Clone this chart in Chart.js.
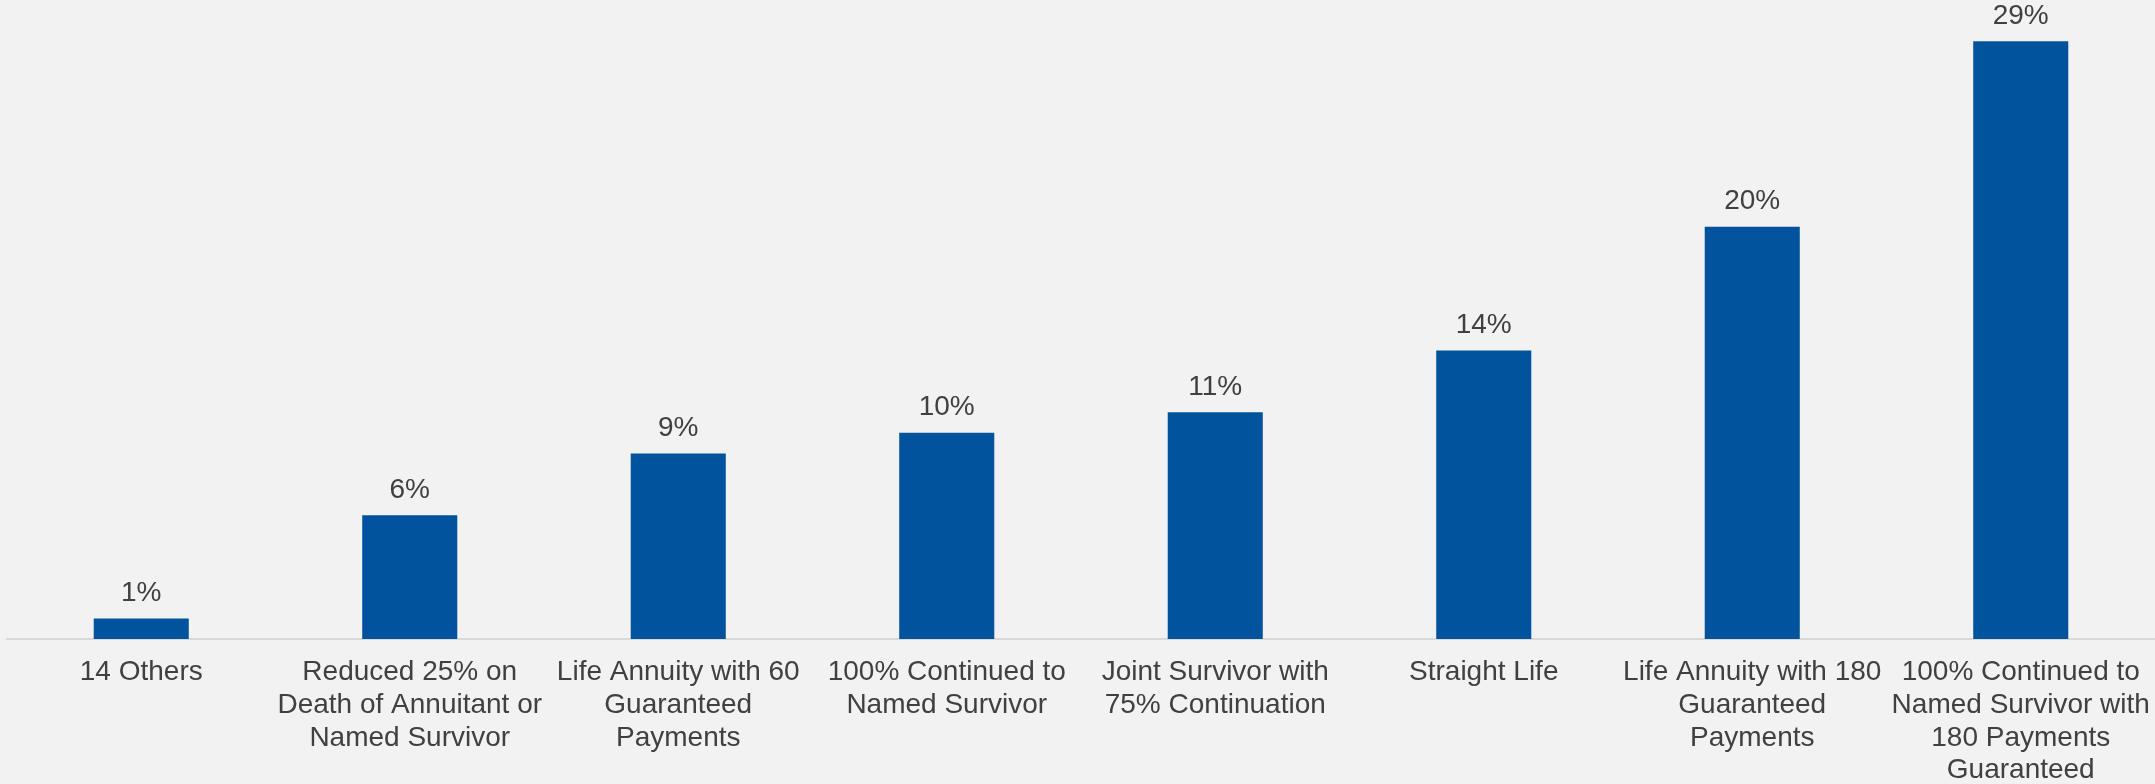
<!DOCTYPE html>
<html>
<head>
<meta charset="utf-8">
<script src="https://cdn.jsdelivr.net/npm/chart.js@4/dist/chart.umd.min.js"></script>
<style>
  html, body { margin: 0; padding: 0; background: #f2f2f2; }
  #wrap { width: 2155px; height: 784px; position: relative; }
</style>
</head>
<body>
<div id="wrap"><canvas id="c"></canvas></div>
<script>
const categories = [
  "14 Others",
  ["Reduced 25% on", "Death of Annuitant or", "Named Survivor"],
  ["Life Annuity with 60", "Guaranteed", "Payments"],
  ["100% Continued to", "Named Survivor"],
  ["Joint Survivor with", "75% Continuation"],
  "Straight Life",
  ["Life Annuity with 180", "Guaranteed", "Payments"],
  ["100% Continued to", "Named Survivor with", "180 Payments", "Guaranteed"]
];
const shares = [1, 6, 9, 10, 11, 14, 20, 29];
const labelSuffix = "%";

const FONT = "'Liberation Sans', Arial, Helvetica, sans-serif";
const TEXT = "#404040";

const valueLabels = {
  id: "valueLabels",
  afterDatasetsDraw(chart) {
    const ctx = chart.ctx;
    const meta = chart.getDatasetMeta(0);
    ctx.save();
    ctx.font = "28px " + FONT;
    ctx.fillStyle = TEXT;
    ctx.textAlign = "center";
    ctx.textBaseline = "alphabetic";
    meta.data.forEach((bar, i) => {
      ctx.fillText(shares[i] + labelSuffix, bar.x, bar.y - 17.5);
    });
    ctx.restore();
  }
};

new Chart(document.getElementById("c"), {
  type: "bar",
  data: {
    labels: categories,
    datasets: [{
      data: shares,
      backgroundColor: "#00539c",
      borderWidth: 0,
      categoryPercentage: 1.0,
      barPercentage: 0.354
    }]
  },
  options: {
    responsive: true,
    maintainAspectRatio: false,
    animation: false,
    layout: { padding: { left: 7, right: 0, top: 0, bottom: 0 } },
    plugins: {
      legend: { display: false },
      tooltip: { enabled: false }
    },
    scales: {
      x: {
        grid: { display: false, drawTicks: false },
        border: { display: true, color: "#d9d9d9", width: 2 },
        ticks: {
          color: TEXT,
          font: { family: FONT, size: 28, lineHeight: 1.17 },
          padding: 17,
          maxRotation: 0,
          minRotation: 0,
          autoSkip: false
        },
        afterFit(scale) {
          scale.height = 145;
          scale.paddingLeft = 0;
          scale.paddingRight = 0;
        }
      },
      y: {
        display: false,
        min: 0,
        max: 31
      }
    }
  },
  plugins: [valueLabels]
});
</script>
</body>
</html>
